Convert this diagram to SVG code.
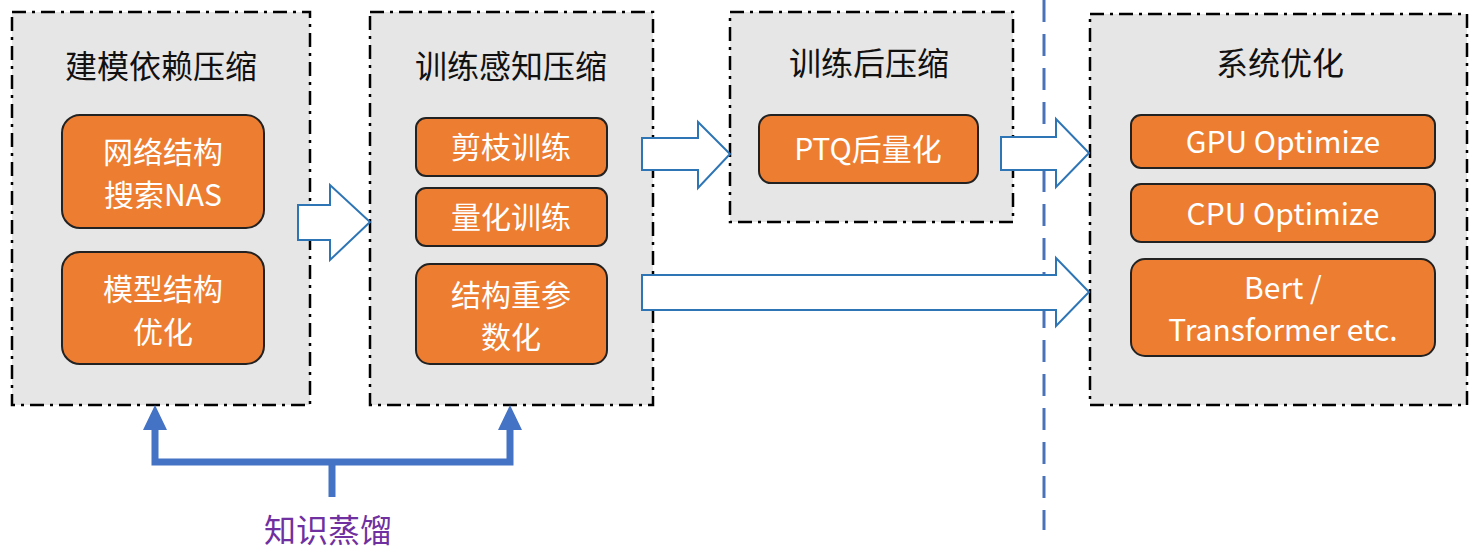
<svg xmlns="http://www.w3.org/2000/svg" width="1474" height="555" viewBox="0 0 1474 555">
<style>
.grp{fill:#E7E6E6;stroke:#000;stroke-width:2.5;stroke-dasharray:14 6 3 6}
.item{fill:#ED7D31;stroke:#222;stroke-width:2}
.t{font-family:"Noto Sans CJK SC","Noto Sans",sans-serif;text-anchor:middle}
.title{font-size:32px;fill:#111}
.it{font-size:30px;fill:#fff}
.big{fill:#fff;stroke:#2E75B6;stroke-width:2}
</style>
<rect width="1474" height="555" fill="#fff"/>
<g id="n1"><rect class="grp" x="12" y="12" width="298" height="393"/>
<text class="t title" x="161" y="78">建模依赖压缩</text>
<rect class="item" x="62" y="115" width="202" height="113" rx="18"/>
<text class="t it" x="163" y="163">网络结构</text><text class="t it" x="163" y="206">搜索NAS</text>
<rect class="item" x="62" y="252" width="202" height="112" rx="18"/>
<text class="t it" x="163" y="300">模型结构</text><text class="t it" x="163" y="343">优化</text></g>
<g id="n2"><rect class="grp" x="370" y="12" width="283" height="393"/>
<text class="t title" x="511" y="78">训练感知压缩</text>
<rect class="item" x="416" y="118" width="191" height="58" rx="10"/><text class="t it" x="511" y="158">剪枝训练</text>
<rect class="item" x="416" y="188" width="191" height="58" rx="10"/><text class="t it" x="511" y="228">量化训练</text>
<rect class="item" x="416" y="264" width="191" height="100" rx="14"/>
<text class="t it" x="511" y="306">结构重参</text><text class="t it" x="511" y="348">数化</text></g>
<g id="n3"><rect class="grp" x="730" y="12" width="283" height="210"/>
<text class="t title" x="869" y="75">训练后压缩</text>
<rect class="item" x="759" y="115" width="219" height="68" rx="12"/><text class="t it" x="868" y="160">PTQ后量化</text></g>
<g id="n4"><rect class="grp" x="1090" y="14" width="377" height="391"/>
<text class="t title" x="1280" y="75">系统优化</text>
<rect class="item" x="1131" y="115" width="304" height="53" rx="10"/><text class="t it" x="1283" y="153">GPU Optimize</text>
<rect class="item" x="1131" y="184" width="304" height="58" rx="10"/><text class="t it" x="1283" y="225">CPU Optimize</text>
<rect class="item" x="1131" y="259" width="304" height="97" rx="14"/>
<text class="t it" x="1283" y="299">Bert /</text><text class="t it" x="1283" y="341">Transformer etc.</text></g>
<g id="connectors">
<line x1="1044" y1="0" x2="1044" y2="530" stroke="#4A72B8" stroke-width="3" stroke-dasharray="22 12"/>
<path class="big" d="M298 205H330V185L370 222L330 260V240H298Z"/>
<path class="big" d="M642 138H698V122L730 154L698 188V170H642Z"/>
<path class="big" d="M1001 137H1056V119L1089 153L1056 187V170H1001Z"/>
<path class="big" d="M642 275H1056V258L1089 292L1056 326V310H642Z"/>
<path d="M155 428V462H510V428M332 462V497" fill="none" stroke="#4472C4" stroke-width="7"/>
<path d="M143 430L155 405L167 430Z M498 430L510 405L522 430Z" fill="#4472C4"/>
<text class="t" x="328" y="542" font-size="32" fill="#7030A0">知识蒸馏</text>
</g>
</svg>
